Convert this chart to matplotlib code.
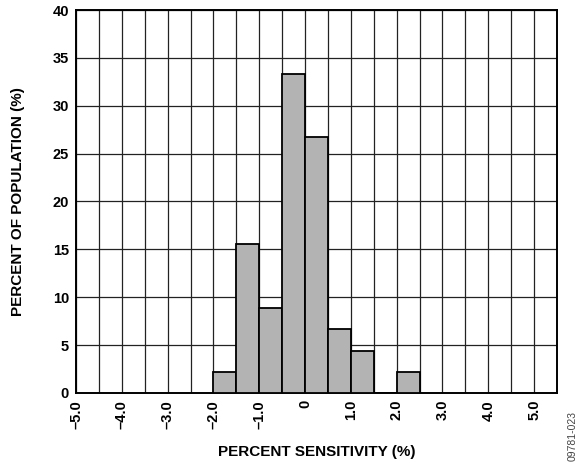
import numpy as np
import matplotlib
matplotlib.use('Agg')
import matplotlib.pyplot as plt

# DATA (histogram bins, 0.5 wide, left edges)
bin_left = [-2.0, -1.5, -1.0, -0.5, 0.0, 0.5, 1.0, 1.5, 2.0]
percent = [2.2, 15.6, 8.9, 33.3, 26.7, 6.7, 4.4, 0.0, 2.2]
xtick_vals = [-5, -4, -3, -2, -1, 0, 1, 2, 3, 4, 5]
xtick_labels = ['\u20135.0', '\u20134.0', '\u20133.0', '\u20132.0', '\u20131.0', '0',
                '1.0', '2.0', '3.0', '4.0', '5.0']
ytick_vals = [0, 5, 10, 15, 20, 25, 30, 35, 40]

plt.rcParams['font.family'] = ['Liberation Sans', 'DejaVu Sans']

fig = plt.figure(figsize=(5.87, 4.66), dpi=100)
ax = fig.add_axes([0.1295, 0.1567, 0.8194, 0.8218])

# grid behind bars
ax.set_axisbelow(True)
ax.set_xticks(np.arange(-5, 5.51, 0.5), minor=True)
ax.grid(True, which='both', axis='x', color='#222222', linewidth=0.9)
ax.grid(True, which='major', axis='y', color='#222222', linewidth=0.9)

ax.bar(bin_left, percent, width=0.5, align='edge', color='#b3b3b3',
       edgecolor='black', linewidth=1.3, zorder=3)

ax.set_xlim(-5, 5.5)
ax.set_ylim(0, 40)
ax.set_xticks(xtick_vals)
ax.set_xticklabels(xtick_labels, rotation=90, fontsize=10.5, fontweight='bold')
ax.set_yticks(ytick_vals)
ax.set_yticklabels([str(v) for v in ytick_vals], fontsize=10.5, fontweight='bold')
ax.tick_params(which='both', length=0, pad=5)

for s in ax.spines.values():
    s.set_linewidth(1.4)
    s.set_color('black')

ax.set_xlabel('PERCENT SENSITIVITY (%)', fontsize=11, fontweight='bold', labelpad=12)
ax.set_ylabel('PERCENT OF POPULATION (%)', fontsize=11, fontweight='bold', labelpad=20)

fig.text(0.976, 0.01, '09781-023', rotation=90, fontsize=7.5, color='#444444',
         ha='center', va='bottom')

fig.savefig('out.png', dpi=100)
